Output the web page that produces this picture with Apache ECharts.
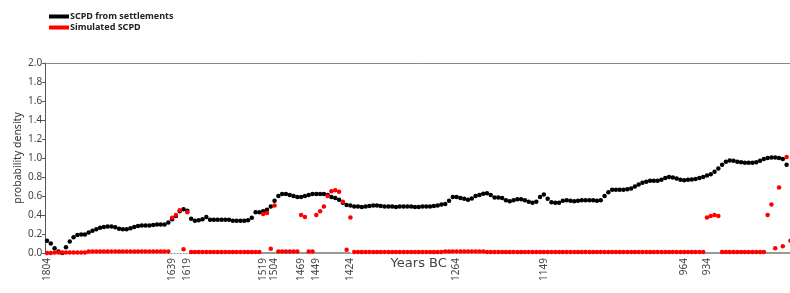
<!DOCTYPE html>
<html>
<head>
<meta charset="utf-8">
<script src="https://cdn.jsdelivr.net/npm/echarts@6/dist/echarts.min.js"></script>
<style>
  html, body { margin: 0; padding: 0; background: #fff; }
  #chart { width: 790px; height: 293px; }
</style>
</head>
<body>
<div id="chart"></div>
<script>
// years BC, one point every 5 years
const years = []
for (let y = 1804; y >= 824; y -= 5) years.push(y)

const tickLabels = ['1804', '1639', '1619', '1519', '1504', '1469', '1449', '1424', '1264', '1149', '964', '934']
const tickIndex = [0, 33, 37, 57, 60, 67, 71, 80, 108, 131, 168, 174]

const settlements = [
  0.13, 0.10, 0.05, 0.015, 0.0, 0.06, 0.12, 0.165, 0.19, 0.195,
  0.195, 0.215, 0.235, 0.25, 0.265, 0.275, 0.28, 0.28, 0.27, 0.255,
  0.25, 0.25, 0.26, 0.275, 0.285, 0.29, 0.29, 0.29, 0.295, 0.30,
  0.30, 0.30, 0.32, 0.355, 0.39, 0.44, 0.46, 0.445, 0.36, 0.34,
  0.345, 0.355, 0.38, 0.35, 0.35, 0.35, 0.35, 0.35, 0.35, 0.34,
  0.34, 0.34, 0.34, 0.345, 0.37, 0.43, 0.43, 0.44, 0.455, 0.49,
  0.55, 0.60, 0.62, 0.62, 0.61, 0.60, 0.59, 0.59, 0.60, 0.61,
  0.62, 0.62, 0.62, 0.62, 0.61, 0.59, 0.58, 0.56, 0.53, 0.505,
  0.50, 0.49, 0.49, 0.485, 0.49, 0.495, 0.50, 0.50, 0.495, 0.49,
  0.49, 0.49, 0.485, 0.49, 0.49, 0.49, 0.49, 0.485, 0.485, 0.49,
  0.49, 0.49, 0.495, 0.50, 0.51, 0.515, 0.55, 0.59, 0.59, 0.58,
  0.57, 0.56, 0.575, 0.60, 0.61, 0.625, 0.63, 0.61, 0.585, 0.585,
  0.58, 0.555, 0.545, 0.555, 0.565, 0.565, 0.555, 0.54, 0.53, 0.54,
  0.59, 0.615, 0.57, 0.535, 0.53, 0.53, 0.55, 0.555, 0.55, 0.545,
  0.55, 0.555, 0.555, 0.555, 0.555, 0.55, 0.555, 0.60, 0.64, 0.665,
  0.665, 0.665, 0.665, 0.67, 0.68, 0.70, 0.72, 0.74, 0.75, 0.76,
  0.76, 0.76, 0.77, 0.79, 0.80, 0.795, 0.785, 0.77, 0.765, 0.77,
  0.775, 0.78, 0.79, 0.80, 0.815, 0.83, 0.855, 0.89, 0.93, 0.96,
  0.975, 0.97, 0.96, 0.955, 0.95, 0.95, 0.95, 0.955, 0.97, 0.99,
  1.0, 1.005, 1.005, 1.0, 0.99, 0.93, null
]

const simulated = [
  0.0, 0.0, 0.005, 0.005, 0.005, 0.005, 0.005, 0.005, 0.005, 0.005,
  0.005, 0.015, 0.015, 0.015, 0.015, 0.015, 0.015, 0.015, 0.015, 0.015,
  0.015, 0.015, 0.015, 0.015, 0.015, 0.015, 0.015, 0.015, 0.015, 0.015,
  0.015, 0.015, 0.015, 0.37, 0.40, 0.45, 0.04, 0.43, 0.01, 0.01,
  0.01, 0.01, 0.01, 0.01, 0.01, 0.01, 0.01, 0.01, 0.01, 0.01,
  0.01, 0.01, 0.01, 0.01, 0.01, 0.01, 0.01, 0.41, 0.42, 0.045,
  0.50, 0.015, 0.015, 0.015, 0.015, 0.015, 0.015, 0.40, 0.38, 0.015,
  0.015, 0.40, 0.44, 0.49, 0.60, 0.65, 0.66, 0.645, 0.54, 0.035,
  0.375, 0.01, 0.01, 0.01, 0.01, 0.01, 0.01, 0.01, 0.01, 0.01,
  0.01, 0.01, 0.01, 0.01, 0.01, 0.01, 0.01, 0.01, 0.01, 0.01,
  0.01, 0.01, 0.01, 0.01, 0.01, 0.015, 0.015, 0.015, 0.015, 0.015,
  0.015, 0.015, 0.015, 0.015, 0.015, 0.015, 0.01, 0.01, 0.01, 0.01,
  0.01, 0.01, 0.01, 0.01, 0.01, 0.01, 0.01, 0.01, 0.01, 0.01,
  0.01, 0.01, 0.01, 0.01, 0.01, 0.01, 0.01, 0.01, 0.01, 0.01,
  0.01, 0.01, 0.01, 0.01, 0.01, 0.01, 0.01, 0.01, 0.01, 0.01,
  0.01, 0.01, 0.01, 0.01, 0.01, 0.01, 0.01, 0.01, 0.01, 0.01,
  0.01, 0.01, 0.01, 0.01, 0.01, 0.01, 0.01, 0.01, 0.01, 0.01,
  0.01, 0.01, 0.01, 0.01, 0.375, 0.39, 0.40, 0.39, 0.01, 0.01,
  0.01, 0.01, 0.01, 0.01, 0.01, 0.01, 0.01, 0.01, 0.01, 0.01,
  0.40, 0.51, 0.05, 0.69, 0.07, 1.01, 0.13
]

// grey zero baseline shown only over some stretches
const baseline = years.map((y, i) => ((i >= 54 && i <= 80) || i >= 172) ? 0 : null)

const chart = echarts.init(document.getElementById('chart'), null, { renderer: 'canvas' })

const labelFont = { fontFamily: 'Noto Sans', fontSize: 10, color: '#444' }

chart.setOption({
  backgroundColor: '#fff',
  animation: false,
  legend: {
    data: ['SCPD from settlements', 'Simulated SCPD'],
    orient: 'vertical',
    left: 44,
    top: 7,
    itemWidth: 20,
    itemHeight: 4,
    itemGap: 2,
    icon: 'rect',
    textStyle: { fontFamily: 'Noto Sans', fontSize: 9, fontWeight: 'bold', color: '#222', padding: [0, 0, 0, -4] }
  },
  grid: { left: 45.1, top: 63, width: 747.2, height: 190, outerBoundsMode: 'none' },
  xAxis: [
    {
      type: 'category',
      data: years,
      boundaryGap: true,
      offset: 2,
      name: 'Years BC',
      nameLocation: 'middle',
      nameGap: 2,
      nameMoveOverlap: false,
      nameTextStyle: { fontFamily: 'DejaVu Sans', fontSize: 13, color: '#444' },
      axisLine: { lineStyle: { color: '#888', type: [1, 2], width: 1 } },
      axisTick: { show: false },
      axisLabel: Object.assign({
        rotate: 90,
        margin: 3,
        interval: 0,
        formatter: (val, idx) => {
          const k = tickIndex.indexOf(idx)
          return k >= 0 ? tickLabels[k] : ''
        }
      }, labelFont)
    },
    {
      type: 'category',
      position: 'top',
      data: years,
      axisLine: { lineStyle: { color: '#888', width: 1 } },
      axisTick: { show: false },
      axisLabel: { show: false }
    }
  ],
  yAxis: {
    type: 'value',
    min: 0,
    max: 2,
    interval: 0.2,
    name: 'probability density',
    nameLocation: 'middle',
    nameGap: 22,
    nameMoveOverlap: false,
    nameTextStyle: { fontFamily: 'Noto Sans', fontSize: 10.5, color: '#333' },
    axisLine: { show: true, lineStyle: { color: '#555' } },
    axisTick: { show: true, length: 3, lineStyle: { color: '#555' } },
    splitLine: { show: false },
    axisLabel: Object.assign({ margin: 3, formatter: v => v.toFixed(1) }, labelFont)
  },
  series: [
    {
      name: 'zero',
      type: 'line',
      data: baseline,
      symbol: 'none',
      silent: true,
      lineStyle: { color: '#999', width: 2 },
      z: 1
    },
    {
      name: 'SCPD from settlements',
      type: 'scatter',
      data: settlements,
      symbol: 'circle',
      symbolSize: 4.5,
      itemStyle: { color: '#000', opacity: 1 },
      z: 2
    },
    {
      name: 'Simulated SCPD',
      type: 'scatter',
      data: simulated,
      symbol: 'circle',
      symbolSize: 4.5,
      itemStyle: { color: '#f00', opacity: 1 },
      z: 3
    }
  ]
})
</script>
</body>
</html>
